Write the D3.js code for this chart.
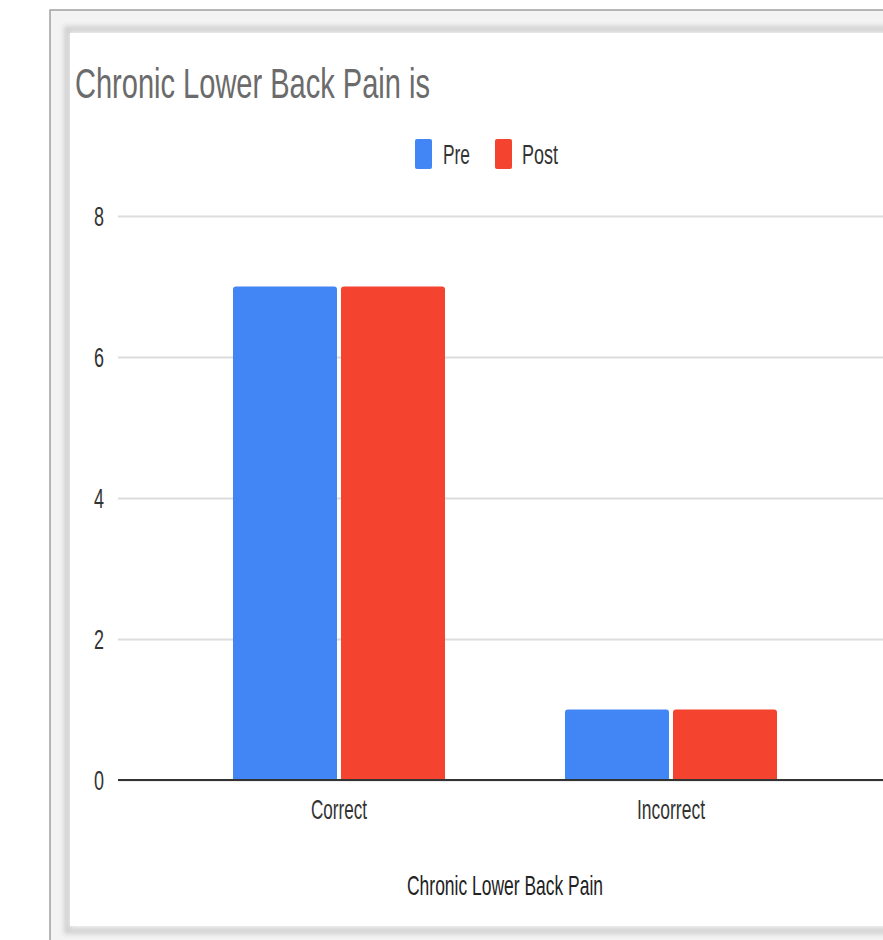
<!DOCTYPE html>
<html>
<head>
<meta charset="utf-8">
<script src="https://cdn.jsdelivr.net/npm/d3@7"></script>
<style>
  html, body { margin: 0; padding: 0; background: #fff; }
  svg { display: block; font-family: "Liberation Sans", Arial, sans-serif; }
</style>
</head>
<body>
<svg id="chart" width="883" height="940"></svg>
<script>
// Survey answers, counts before and after the session
const categories = ["Correct", "Incorrect"];
const seriesNames = ["Pre", "Post"];
const preValues = [7, 1];
const postValues = [7, 1];
const yTicks = [0, 2, 4, 6, 8];
const seriesColors = ["#4285f4", "#f4432f"];

const svg = d3.select("#chart");
const W = 883, H = 940;

// Window frame and card shadow around the chart
const defs = svg.append("defs");
const blur = defs.append("filter").attr("id", "soft").attr("x", "-5%").attr("y", "-5%").attr("width", "110%").attr("height", "110%");
blur.append("feGaussianBlur").attr("stdDeviation", 2.5);

svg.append("rect").attr("x", 0).attr("y", 0).attr("width", W).attr("height", H).attr("fill", "#fff");
svg.append("rect").attr("x", 50).attr("y", 10).attr("width", W).attr("height", H).attr("fill", "#f3f3f3")
  .attr("stroke", "#a0a0a0").attr("stroke-width", 1.5);
svg.append("rect").attr("x", 67).attr("y", 29).attr("width", W).attr("height", 902)
  .attr("fill", "none").attr("stroke", "#cfcfcf").attr("stroke-width", 6).attr("filter", "url(#soft)");
svg.append("rect").attr("x", 70).attr("y", 33).attr("width", W).attr("height", 893).attr("fill", "#fff");

// Chart area
const plotLeft = 118, plotRight = W;
const y = d3.scaleLinear().domain([0, 8]).range([780, 216]);
const x0 = d3.scaleBand().domain(categories).range([173, 837]).paddingInner(0.3614).paddingOuter(0.1807);
const x1 = d3.scaleBand().domain(seriesNames).range([0, x0.bandwidth()]).paddingInner(0.037);
const color = d3.scaleOrdinal().domain(seriesNames).range(seriesColors);

// Title
svg.append("text").attr("x", 75).attr("y", 98)
  .attr("font-size", 42).attr("fill", "#6b6b6b")
  .attr("textLength", 355).attr("lengthAdjust", "spacingAndGlyphs")
  .text("Chronic Lower Back Pain is");

// Legend
const legendItems = [
  { name: "Pre", sx: 415, tx: 443, tw: 27 },
  { name: "Post", sx: 495, tx: 522, tw: 36 }
];
const legend = svg.append("g");
legendItems.forEach(d => {
  legend.append("rect").attr("x", d.sx).attr("y", 139).attr("width", 17).attr("height", 30)
    .attr("rx", 2).attr("fill", color(d.name));
  legend.append("text").attr("x", d.tx).attr("y", 164).attr("font-size", 27).attr("fill", "#333")
    .attr("textLength", d.tw).attr("lengthAdjust", "spacingAndGlyphs").text(d.name);
});

// Gridlines and y-axis labels
const yAxis = d3.axisLeft(y).tickValues(yTicks).tickSize(-(plotRight - plotLeft)).tickFormat(d3.format("d"));
const yg = svg.append("g").attr("transform", `translate(${plotLeft},0)`).call(yAxis);
yg.select(".domain").remove();
yg.selectAll(".tick line").attr("stroke", "#dcdcdc").attr("stroke-width", 2);
yg.selectAll(".tick text").attr("x", -14).attr("dy", "0.35em").attr("font-size", 27).attr("fill", "#333")
  .attr("font-family", "Liberation Sans, Arial, sans-serif")
  .attr("textLength", 10).attr("lengthAdjust", "spacingAndGlyphs");

// Bars
const rows = categories.map((c, i) => ({ category: c, values: [
  { series: "Pre", value: preValues[i] },
  { series: "Post", value: postValues[i] }
]}));
const groups = svg.append("g").selectAll("g").data(rows).join("g")
  .attr("transform", d => `translate(${x0(d.category)},0)`);
groups.selectAll("path").data(d => d.values).join("path")
  .attr("fill", d => color(d.series))
  .attr("d", d => {
    const bx = x1(d.series), bw = x1.bandwidth(), top = y(d.value), bot = y(0), r = 3;
    return `M${bx},${bot}V${top + r}Q${bx},${top} ${bx + r},${top}H${bx + bw - r}Q${bx + bw},${top} ${bx + bw},${top + r}V${bot}Z`;
  });

// Baseline
svg.append("line").attr("x1", plotLeft).attr("x2", plotRight).attr("y1", y(0)).attr("y2", y(0))
  .attr("stroke", "#333").attr("stroke-width", 2);

// Category labels
const xAxis = d3.axisBottom(x0).tickSize(0).tickPadding(0);
const xg = svg.append("g").attr("transform", `translate(0,${y(0)})`).call(xAxis);
xg.select(".domain").remove();
const labelWidths = { "Correct": 56, "Incorrect": 68 };
xg.selectAll(".tick text").attr("y", 39).attr("dy", 0).attr("font-size", 28).attr("fill", "#333")
  .attr("font-family", "Liberation Sans, Arial, sans-serif")
  .attr("textLength", d => labelWidths[d]).attr("lengthAdjust", "spacingAndGlyphs");

// Axis title
svg.append("text").attr("x", 505).attr("y", 895).attr("text-anchor", "middle")
  .attr("font-size", 28).attr("fill", "#222")
  .attr("textLength", 196).attr("lengthAdjust", "spacingAndGlyphs")
  .text("Chronic Lower Back Pain");
</script>
</body>
</html>
